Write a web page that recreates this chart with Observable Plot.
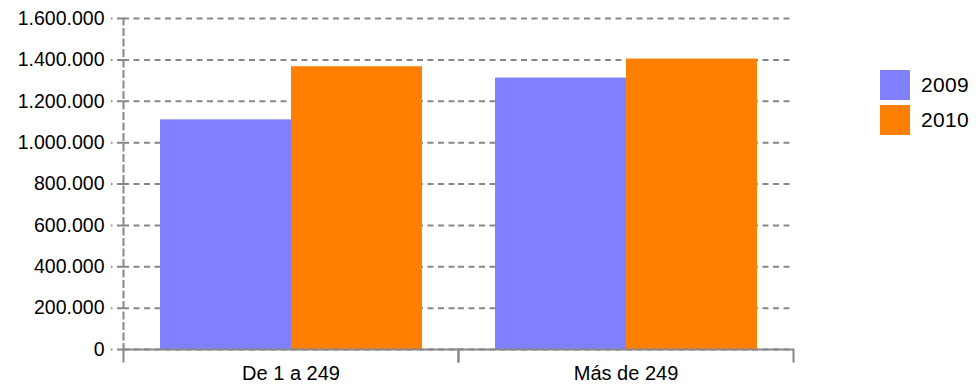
<!DOCTYPE html>
<html>
<head>
<meta charset="utf-8">
<script src="https://cdn.jsdelivr.net/npm/d3@7"></script>
<script src="https://cdn.jsdelivr.net/npm/@observablehq/plot@0.6"></script>
<style>
  html, body { margin: 0; padding: 0; background: #fff; }
  #wrap { position: relative; width: 978px; height: 385px; font-family: "Liberation Sans", Arial, sans-serif; }
  #legend { position: absolute; left: 880px; top: 70px; }
  .item { display: flex; align-items: center; height: 30px; margin-bottom: 5px; }
  .sw { width: 30px; height: 30px; margin-right: 11px; }
  .lab { font-size: 21px; color: #000; letter-spacing: 0.3px; }
</style>
</head>
<body>
<div id="wrap"><div id="legend"></div></div>
<script>
const categories = ["De 1 a 249", "Más de 249"];
const years = ["2009", "2010"];
const values2009 = [1110000, 1312000];
const values2010 = [1367000, 1404000];
const yTicks = [0, 200000, 400000, 600000, 800000, 1000000, 1200000, 1400000, 1600000];
const colors = ["#8080FF", "#FF8000"];

const rows = [];
categories.forEach((c, i) => {
  rows.push({cat: c, year: years[0], value: values2009[i]});
  rows.push({cat: c, year: years[1], value: values2010[i]});
});

const fmt = d3.formatLocale({decimal: ",", thousands: ".", grouping: [3], currency: ["", "€"]}).format(",d");
const gray = "#878787";

const chart = Plot.plot({
  width: 978,
  height: 385,
  marginLeft: 123,
  marginRight: 185,
  marginTop: 18,
  marginBottom: 36,
  style: {fontFamily: "'Liberation Sans', Arial, sans-serif", color: "#000", background: "#fff", overflow: "visible"},
  fx: {domain: categories, padding: 0, label: null},
  x: {domain: years, paddingInner: 0, paddingOuter: 0.27, axis: null},
  y: {domain: [0, 1600000], label: null, axis: null},
  color: {domain: years, range: colors},
  marks: [
    Plot.gridY(yTicks, {stroke: gray, strokeOpacity: 1, strokeWidth: 2, strokeDasharray: "6,4.5"}),
    Plot.barY(rows, {fx: "cat", x: "year", y: "value", fill: "year"}),
    Plot.ruleY([0], {stroke: gray, strokeWidth: 2}),
    Plot.frame({anchor: "left", facet: "super", stroke: gray, strokeWidth: 2, strokeDasharray: "6,4.5"}),
    Plot.frame({anchor: "left", insetTop: 331, insetBottom: -12, stroke: gray, strokeWidth: 2}),
    Plot.frame({anchor: "right", insetTop: 331, insetBottom: -12, stroke: gray, strokeWidth: 2}),
    Plot.axisY(yTicks, {tickSize: 12, tickPadding: 7, tickFormat: fmt, stroke: gray, strokeWidth: 2, strokeDasharray: "6,4.5", fontSize: 19.5, label: null, fill: "#000"}),
    Plot.axisFx({anchor: "bottom", tickSize: 0, tickPadding: 16, fontSize: 20, label: null, fill: "#000"})
  ]
});
document.getElementById("wrap").prepend(chart);

const legend = document.getElementById("legend");
years.forEach((y, i) => {
  const it = document.createElement("div");
  it.className = "item";
  const sw = document.createElement("div");
  sw.className = "sw";
  sw.style.background = colors[i];
  const lab = document.createElement("span");
  lab.className = "lab";
  lab.textContent = y;
  it.append(sw, lab);
  legend.append(it);
});
</script>
</body>
</html>
